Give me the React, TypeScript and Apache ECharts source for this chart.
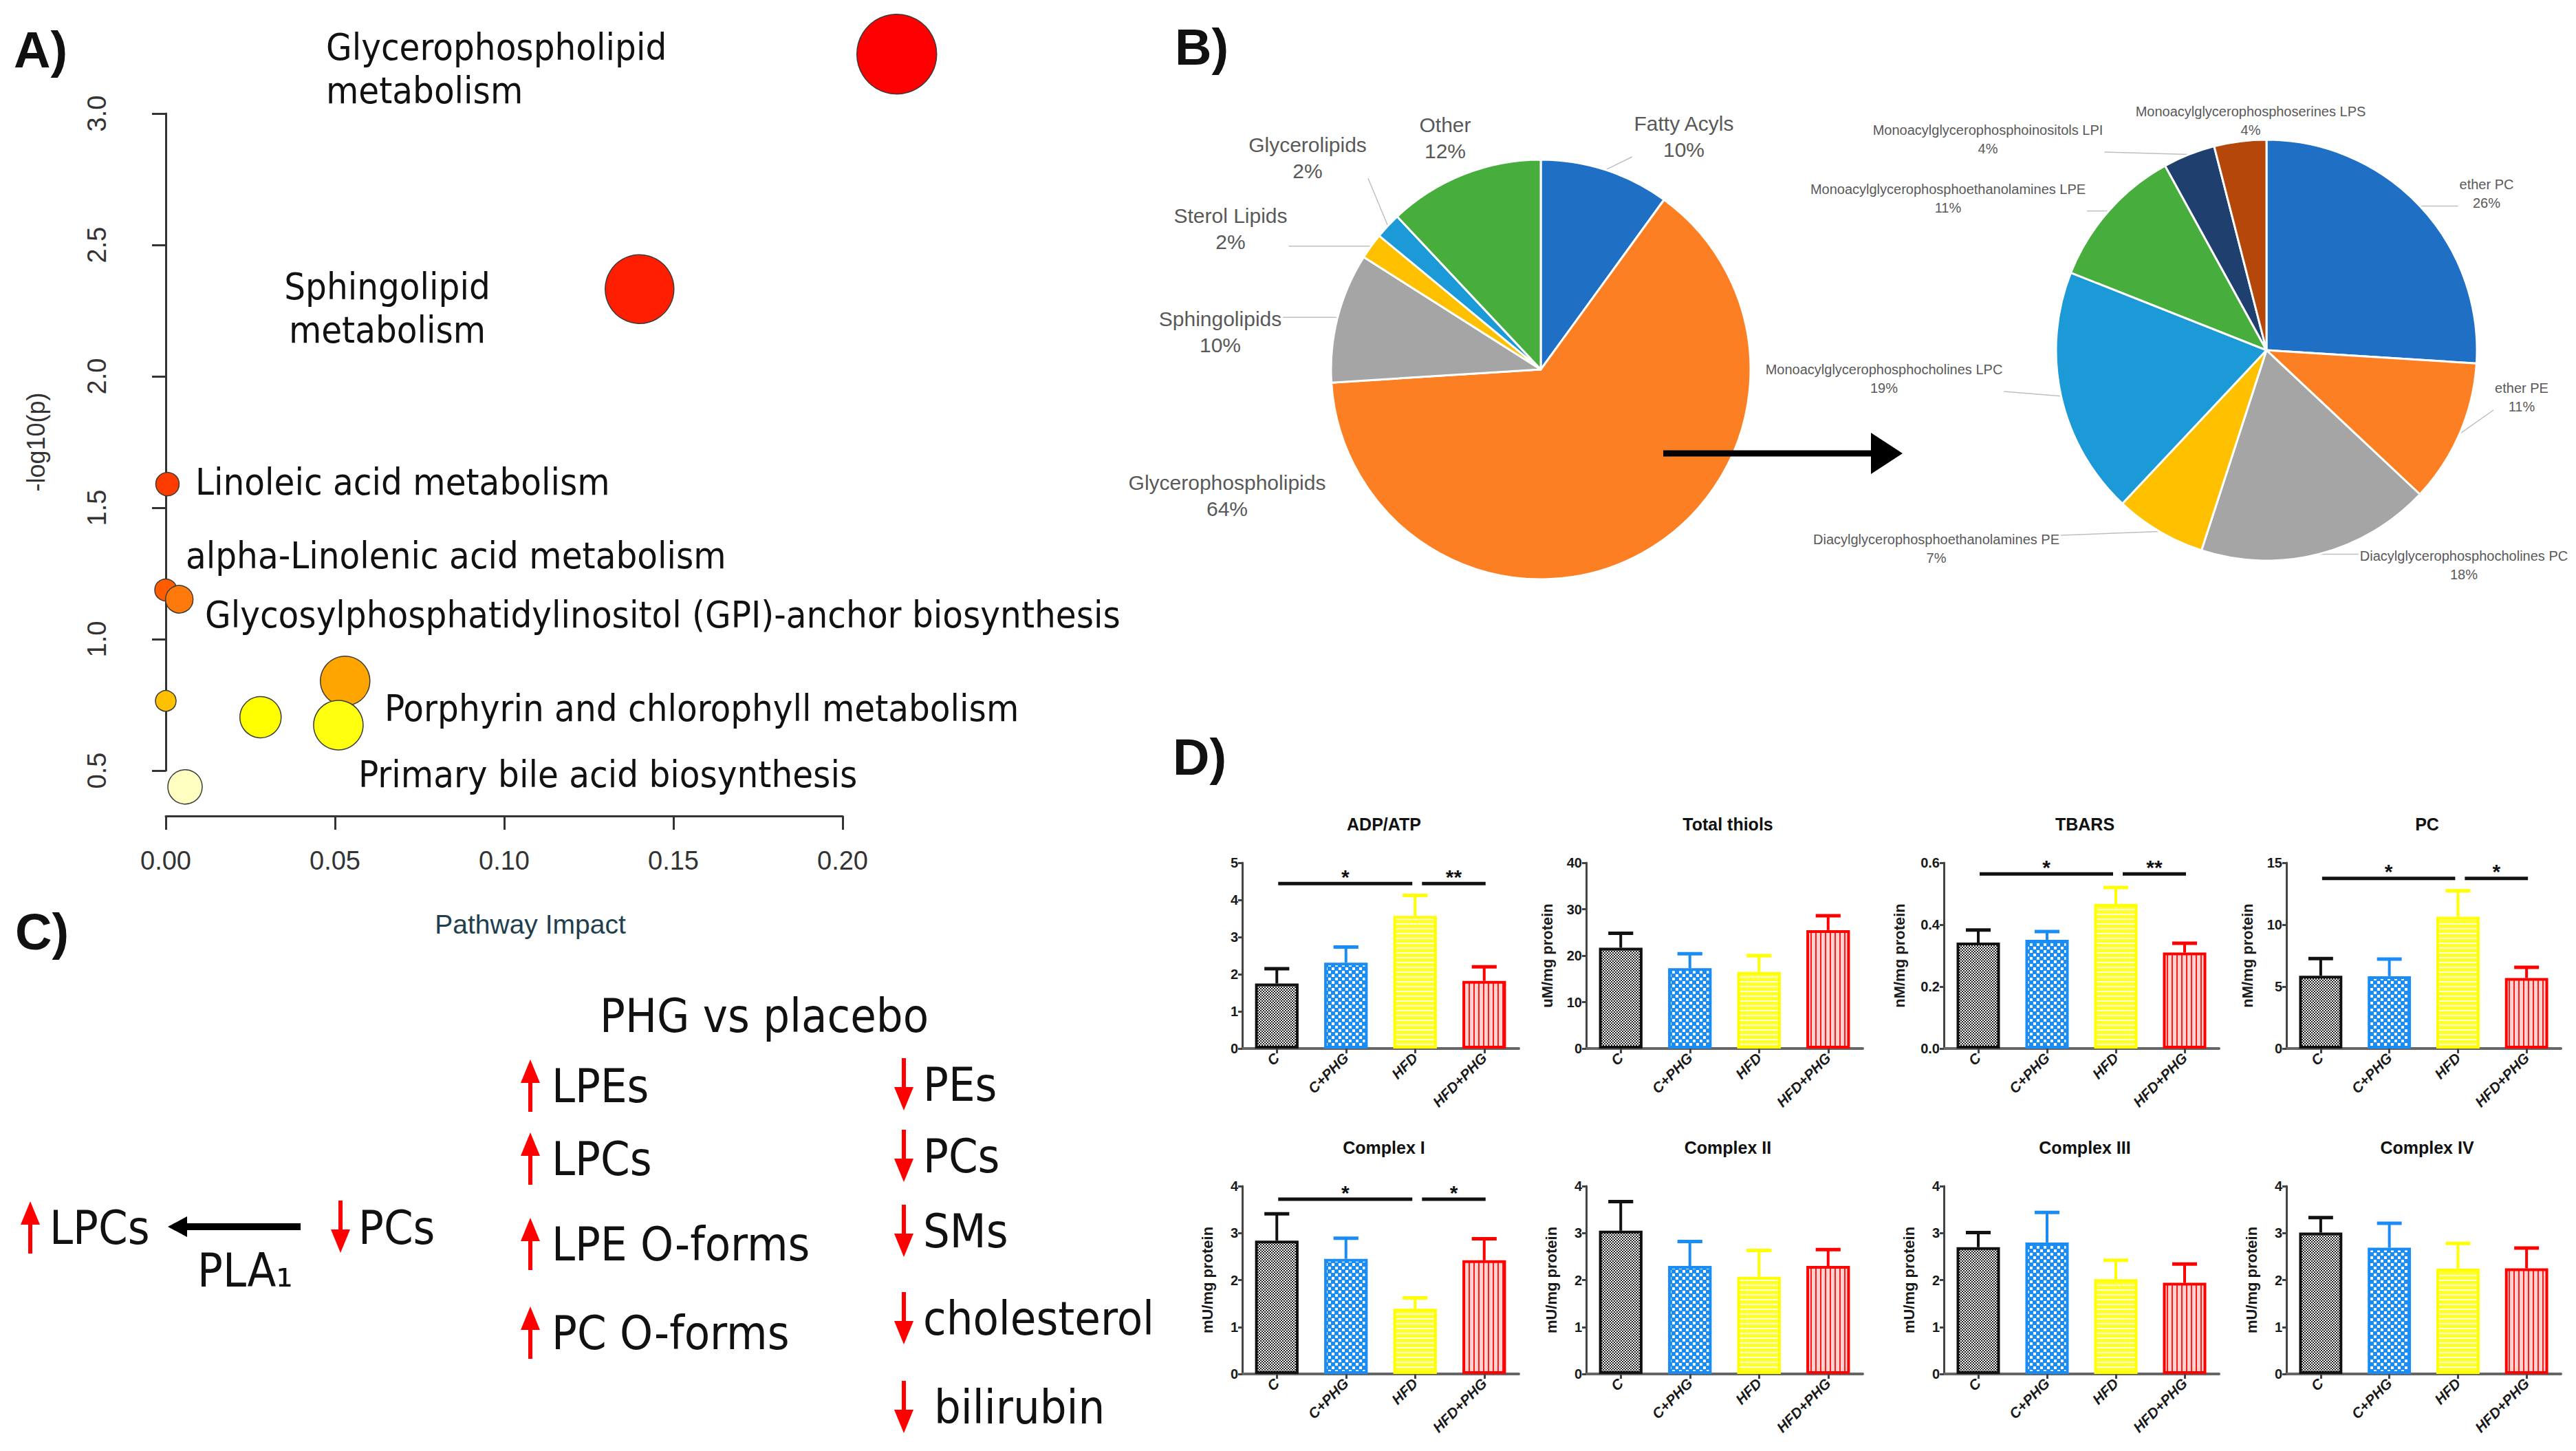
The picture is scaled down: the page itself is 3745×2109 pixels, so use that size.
import React, { useEffect, useRef } from 'react';
import * as echarts from 'echarts';

const W = 3745;
const H = 2109;

const FONT_COND = "'DejaVu Sans Condensed', 'DejaVu Sans', sans-serif";
const FONT_ARIAL = "'Liberation Sans', Arial, sans-serif";
const FONT_NARROW = "'Liberation Sans Narrow', 'Liberation Sans', sans-serif";

// ---------------- Panel A data ----------------
const pathwayImpact = [0.216, 0.14, 0.0005, 0.0, 0.004, 0.053, 0.0, 0.028, 0.051, 0.0057];
const pathwayLogP = [3.226, 2.332, 1.59, 1.187, 1.152, 0.841, 0.765, 0.703, 0.673, 0.438];
const pathwayBubble = [58, 50, 17, 16, 20, 36, 15, 30, 36, 25];
const pathwayColors = ['#ff0000', '#ff1e00', '#ff3c00', '#ff5c00', '#ff7a0a', '#ffa500', '#ffc000', '#ffff00', '#ffff10', '#ffffc2'];
const pathwayLabels = [
  'Glycerophospholipid\nmetabolism',
  'Sphingolipid\nmetabolism',
  'Linoleic acid metabolism',
  'alpha-Linolenic acid metabolism',
  'Glycosylphosphatidylinositol (GPI)-anchor biosynthesis',
  'Porphyrin and chlorophyll metabolism',
  'Primary bile acid biosynthesis',
];
const impactTicks = [0, 0.2, 0.05];
const logPTicks = [0.5, 3.0, 0.5];

// ---------------- Panel B data ----------------
const lipidClasses = ['Fatty Acyls', 'Glycerophospholipids', 'Sphingolipids', 'Sterol Lipids', 'Glycerolipids', 'Other'];
const lipidShares = [10, 64, 10, 2, 2, 12];
const gplClasses = [
  'ether PC',
  'ether PE',
  'Diacylglycerophosphocholines PC',
  'Diacylglycerophosphoethanolamines PE',
  'Monoacylglycerophosphocholines LPC',
  'Monoacylglycerophosphoethanolamines LPE',
  'Monoacylglycerophosphoinositols LPI',
  'Monoacylglycerophosphoserines LPS',
];
const gplShares = [26, 11, 18, 7, 19, 11, 4, 4];

// ---------------- Panel C text ----------------
const upItems = ['LPEs', 'LPCs', 'LPE O-forms', 'PC O-forms'];
const downItems = ['PEs', 'PCs', 'SMs', 'cholesterol', 'bilirubin'];

// ---------------- Panel D data ----------------
const groups = ['C', 'C+PHG', 'HFD', 'HFD+PHG'];
const adpAtpMean = [1.75, 2.31, 3.57, 1.82];
const adpAtpTop = [2.15, 2.73, 4.12, 2.2];
const adpAtpSig = [[0, 2, 4.44], [2, 3, 4.44]];
const adpAtpStars = ['*', '**'];
const thiolsMean = [21.7, 17.3, 16.5, 25.5];
const thiolsTop = [24.8, 20.4, 20.0, 28.6];
const tbarsMean = [0.342, 0.351, 0.467, 0.31];
const tbarsTop = [0.383, 0.378, 0.52, 0.34];
const tbarsSig = [[0, 2, 0.564], [2, 3, 0.564]];
const tbarsStars = ['*', '**'];
const pcMean = [5.88, 5.84, 10.64, 5.69];
const pcTop = [7.26, 7.22, 12.73, 6.55];
const pcSig = [[0, 2, 13.73], [2, 3, 13.73]];
const pcStars = ['*', '*'];
const cx1Mean = [2.84, 2.45, 1.39, 2.42];
const cx1Top = [3.41, 2.89, 1.62, 2.88];
const cx1Sig = [[0, 2, 3.72], [2, 3, 3.72]];
const cx1Stars = ['*', '*'];
const cx2Mean = [3.05, 2.3, 2.07, 2.3];
const cx2Top = [3.67, 2.82, 2.63, 2.65];
const cx3Mean = [2.7, 2.8, 2.02, 1.94];
const cx3Top = [3.01, 3.44, 2.42, 2.34];
const cx4Mean = [3.01, 2.69, 2.24, 2.25];
const cx4Top = [3.33, 3.21, 2.78, 2.68];

// ---------------- layout & styles ----------------
const leftPieColors = ['#1f6fc5', '#fd7f23', '#a5a5a5', '#ffc000', '#1b9ad7', '#47ad3c'];
const rightPieColors = ['#1f6fc5', '#fd7f23', '#a5a5a5', '#ffc000', '#1b9ad7', '#47ad3c', '#1f3f6e', '#b6470b'];
const leftLabelPos = [[2448, 198], [1784, 720], [1774, 482], [1789, 332], [1901, 229], [2101, 200]];
const leftLabelLine = [true, false, true, true, true, false];
const rightLabelPos = [[3615, 281], [3666, 577], [3582, 821], [2815, 797], [2739, 550], [2832, 288], [2890, 202], [3272, 175]];
const rightLabelLine = [true, true, true, true, true, true, true, false];
const pathwayLabelPos = [[474, 100, 'left'], [563, 448, 'center'], [284, 700, 'left'], [270, 807, 'left'], [298, 893, 'left'], [559, 1029, 'left'], [521, 1125, 'left']];
const groupBorder = ['#111111', '#1a8cf5', '#ffff00', '#ff0000'];
const dCols = [[1806, 2208], [2306, 2708], [2826, 3226], [3324, 3723]];
const dRows = [[1254, 1524], [1724, 1997]];

function tile(w: number, h: number, draw: (ctx: CanvasRenderingContext2D) => void) {
  const c = document.createElement('canvas');
  c.width = w;
  c.height = h;
  const ctx = c.getContext('2d') as CanvasRenderingContext2D;
  draw(ctx);
  return { image: c, repeat: 'repeat', imageWidth: w, imageHeight: h };
}

function makePatterns() {
  const pC = tile(4, 4, (ctx) => {
    ctx.fillStyle = '#ffffff';
    ctx.fillRect(0, 0, 4, 4);
    ctx.fillStyle = '#222222';
    ctx.fillRect(0, 0, 2, 2);
    ctx.fillRect(2, 2, 2, 2);
  });
  const pCP = tile(10, 10, (ctx) => {
    ctx.fillStyle = '#1a8cf5';
    ctx.fillRect(0, 0, 10, 10);
    ctx.fillStyle = '#ffffff';
    ctx.fillRect(1, 1, 4, 4);
    ctx.fillRect(6, 6, 4, 4);
  });
  const pH = tile(4, 7, (ctx) => {
    ctx.fillStyle = '#ffff2a';
    ctx.fillRect(0, 0, 4, 7);
    ctx.fillStyle = '#ffffd8';
    ctx.fillRect(0, 5, 4, 2);
  });
  const pHP = tile(7, 4, (ctx) => {
    ctx.fillStyle = '#ffd2d2';
    ctx.fillRect(0, 0, 7, 4);
    ctx.fillStyle = '#ff1a1a';
    ctx.fillRect(0, 0, 2, 4);
  });
  return [pC, pCP, pH, pHP];
}

function txt(text: string, x: number, y: number, font: string, extra: any = {}) {
  return {
    type: 'text',
    silent: true,
    z: 100,
    style: {
      text,
      x,
      y,
      font,
      fill: '#111111',
      align: 'left',
      verticalAlign: 'middle',
      textAlign: 'left',
      textVerticalAlign: 'middle',
      ...extra,
    },
  };
}

function vArrow(cx: number, top: number, bottom: number, up: boolean, color: string) {
  const headH = 34;
  const hw = 14;
  const sw = 6;
  if (up) {
    return [
      { type: 'rect', silent: true, z: 100, shape: { x: cx - sw / 2, y: top + headH - 2, width: sw, height: bottom - top - headH + 2 }, style: { fill: color } },
      { type: 'polygon', silent: true, z: 100, shape: { points: [[cx, top], [cx + hw, top + headH], [cx - hw, top + headH]] }, style: { fill: color } },
    ];
  }
  return [
    { type: 'rect', silent: true, z: 100, shape: { x: cx - sw / 2, y: top, width: sw, height: bottom - top - headH + 2 }, style: { fill: color } },
    { type: 'polygon', silent: true, z: 100, shape: { points: [[cx, bottom], [cx + hw, bottom - headH], [cx - hw, bottom - headH]] }, style: { fill: color } },
  ];
}

function hArrowLeft(tipX: number, tailX: number, y: number, thick: number, headLen: number, headHalf: number) {
  return [
    { type: 'rect', silent: true, z: 100, shape: { x: tipX + headLen - 2, y: y - thick / 2, width: tailX - tipX - headLen + 2, height: thick }, style: { fill: '#000' } },
    { type: 'polygon', silent: true, z: 100, shape: { points: [[tipX, y], [tipX + headLen, y - headHalf], [tipX + headLen, y + headHalf]] }, style: { fill: '#000' } },
  ];
}

function hArrowRight(tailX: number, tipX: number, y: number, thick: number, headLen: number, headHalf: number) {
  return [
    { type: 'rect', silent: true, z: 100, shape: { x: tailX, y: y - thick / 2, width: tipX - tailX - headLen + 2, height: thick }, style: { fill: '#000' } },
    { type: 'polygon', silent: true, z: 100, shape: { points: [[tipX, y], [tipX - headLen, y - headHalf], [tipX - headLen, y + headHalf]] }, style: { fill: '#000' } },
  ];
}

function pieLabelLayout(positions: number[][], showLine: boolean[]) {
  return (params: any) => {
    const p = positions[params.dataIndex];
    const x = p[0];
    const y = p[1];
    const r = params.labelRect;
    const out: any = { x, y, align: 'center', verticalAlign: 'middle' };
    const pts = params.labelLinePoints;
    if (pts && showLine[params.dataIndex]) {
      const p0 = pts[0];
      const left = x - r.width / 2 - 2;
      const right = x + r.width / 2 + 2;
      const top = y - r.height / 2;
      const bottom = y + r.height / 2;
      const tx = Math.min(Math.max(p0[0], left), right);
      const ty = Math.min(Math.max(p0[1], top + 8), bottom - 8);
      out.labelLinePoints = [p0, [tx, ty], [tx, ty]];
    }
    return out;
  };
}

function buildOption() {
  const patterns = makePatterns();

  const assays = [
    { title: 'ADP/ATP', unit: '', max: 5, step: 1, mean: adpAtpMean, top: adpAtpTop, sig: adpAtpSig, stars: adpAtpStars, gap: 40, dec: 0 },
    { title: 'Total thiols', unit: 'uM/mg protein', max: 40, step: 10, mean: thiolsMean, top: thiolsTop, sig: [], stars: [], gap: 46, dec: 0 },
    { title: 'TBARS', unit: 'nM/mg protein', max: 0.6, step: 0.2, mean: tbarsMean, top: tbarsTop, sig: tbarsSig, stars: tbarsStars, gap: 54, dec: 1 },
    { title: 'PC', unit: 'nM/mg protein', max: 15, step: 5, mean: pcMean, top: pcTop, sig: pcSig, stars: pcStars, gap: 46, dec: 0 },
    { title: 'Complex I', unit: 'mU/mg protein', max: 4, step: 1, mean: cx1Mean, top: cx1Top, sig: cx1Sig, stars: cx1Stars, gap: 40, dec: 0 },
    { title: 'Complex II', unit: 'mU/mg protein', max: 4, step: 1, mean: cx2Mean, top: cx2Top, sig: [], stars: [], gap: 40, dec: 0 },
    { title: 'Complex III', unit: 'mU/mg protein', max: 4, step: 1, mean: cx3Mean, top: cx3Top, sig: [], stars: [], gap: 40, dec: 0 },
    { title: 'Complex IV', unit: 'mU/mg protein', max: 4, step: 1, mean: cx4Mean, top: cx4Top, sig: [], stars: [], gap: 40, dec: 0 },
  ];

  const grids: any[] = [
    { left: 241, top: 165, width: 984, height: 955 },
  ];
  const xAxes: any[] = [
    {
      type: 'value',
      gridIndex: 0,
      min: impactTicks[0],
      max: impactTicks[1],
      interval: impactTicks[2],
      offset: 66,
      axisLine: { show: true, lineStyle: { color: '#333', width: 3 } },
      axisTick: { show: true, length: 20, lineStyle: { color: '#333', width: 3 } },
      axisLabel: { formatter: (v: number) => v.toFixed(2), fontSize: 38, color: '#333', margin: 46, fontFamily: FONT_NARROW },
      splitLine: { show: false },
      name: 'Pathway Impact',
      nameLocation: 'middle',
      nameGap: 138,
      nameTextStyle: { fontSize: 39, color: '#213e4e', fontFamily: FONT_NARROW, padding: [0, 0, 0, 76] },
    },
  ];
  const yAxes: any[] = [
    {
      type: 'value',
      gridIndex: 0,
      min: logPTicks[0],
      max: logPTicks[1],
      interval: logPTicks[2],
      offset: 41,
      axisLine: { show: true, lineStyle: { color: '#333', width: 3 } },
      axisTick: { show: true, length: 20, lineStyle: { color: '#333', width: 3 } },
      axisLabel: { formatter: (v: number) => v.toFixed(1), fontSize: 38, color: '#333', margin: 40, rotate: 90, fontFamily: FONT_NARROW },
      splitLine: { show: false },
      name: '-log10(p)',
      nameLocation: 'middle',
      nameGap: 130,
      nameRotate: 90,
      nameTextStyle: { fontSize: 36, color: '#333', fontFamily: FONT_NARROW },
    },
  ];

  const series: any[] = [
    {
      type: 'scatter',
      xAxisIndex: 0,
      yAxisIndex: 0,
      clip: false,
      silent: true,
      data: pathwayImpact.map((x, i) => ({
        value: [x, pathwayLogP[i]],
        symbolSize: pathwayBubble[i] * 2,
        itemStyle: { color: pathwayColors[i], borderColor: '#3a3a3a', borderWidth: 1.5, opacity: 1 },
      })),
      z: 3,
    },
    {
      type: 'pie',
      center: [2240, 537],
      radius: 305,
      startAngle: 90,
      clockwise: true,
      avoidLabelOverlap: false,
      silent: true,
      itemStyle: { borderColor: '#ffffff', borderWidth: 3 },
      label: { show: true, formatter: '{b}\n{c}%', fontFamily: FONT_NARROW, fontSize: 30, lineHeight: 38, color: '#595959', align: 'center' },
      labelLine: { show: true, length: 10, length2: 10, lineStyle: { color: '#bfbfbf', width: 1.5 } },
      labelLayout: pieLabelLayout(leftLabelPos, leftLabelLine),
      data: lipidClasses.map((n, i) => ({
        name: n,
        value: lipidShares[i],
        itemStyle: { color: leftPieColors[i] },
        labelLine: { show: leftLabelLine[i] },
      })),
    },
    {
      type: 'pie',
      center: [3295, 509],
      radius: 306,
      startAngle: 90,
      clockwise: true,
      avoidLabelOverlap: false,
      silent: true,
      itemStyle: { borderColor: '#ffffff', borderWidth: 3 },
      label: { show: true, formatter: '{b}\n{c}%', fontFamily: FONT_NARROW, fontSize: 20, lineHeight: 27, color: '#595959', align: 'center' },
      labelLine: { show: true, length: 10, length2: 10, lineStyle: { color: '#bfbfbf', width: 1.5 } },
      labelLayout: pieLabelLayout(rightLabelPos, rightLabelLine),
      data: gplClasses.map((n, i) => ({
        name: n,
        value: gplShares[i],
        itemStyle: { color: rightPieColors[i] },
        labelLine: { show: rightLabelLine[i] },
      })),
    },
  ];

  const titles: any[] = [];

  assays.forEach((a, k) => {
    const g = k + 1;
    const col = dCols[k % 4];
    const row = dRows[Math.floor(k / 4)];
    grids.push({ left: col[0], top: row[0], width: col[1] - col[0], height: row[1] - row[0] });
    titles.push({
      text: a.title,
      left: (col[0] + col[1]) / 2,
      top: row[0] - 74,
      textAlign: 'center',
      textStyle: { fontFamily: FONT_ARIAL, fontWeight: 'bold', fontSize: 25, color: '#111' },
    });
    xAxes.push({
      type: 'category',
      gridIndex: g,
      data: groups,
      axisLine: { show: true, lineStyle: { color: '#666', width: 4 } },
      axisTick: { show: true, alignWithLabel: true, length: 7, lineStyle: { color: '#444', width: 3 } },
      axisLabel: {
        rotate: 45,
        interval: 0,
        fontFamily: FONT_ARIAL,
        fontWeight: 'bold',
        fontStyle: 'italic',
        fontSize: 21,
        color: '#1a1a1a',
        margin: 10,
      },
      splitLine: { show: false },
    });
    yAxes.push({
      type: 'value',
      gridIndex: g,
      min: 0,
      max: a.max,
      interval: a.step,
      axisLine: { show: true, lineStyle: { color: '#444', width: 3 } },
      axisTick: { show: true, length: 6, lineStyle: { color: '#444', width: 3 } },
      splitLine: { show: false },
      axisLabel: {
        fontFamily: FONT_ARIAL,
        fontWeight: 'bold',
        fontSize: 20,
        color: '#1a1a1a',
        margin: 6,
        formatter: (v: number) => v.toFixed(a.dec),
      },
      name: a.unit,
      nameLocation: 'middle',
      nameGap: a.gap,
      nameTextStyle: { fontFamily: FONT_ARIAL, fontWeight: 'bold', fontSize: 22, color: '#1a1a1a' },
    });
    series.push({
      type: 'bar',
      xAxisIndex: g,
      yAxisIndex: g,
      barWidth: '63%',
      silent: true,
      data: a.mean.map((m, i) => ({
        value: m,
        itemStyle: { color: patterns[i], borderColor: groupBorder[i], borderWidth: 4 },
      })),
      z: 2,
    });
    series.push({
      type: 'custom',
      xAxisIndex: g,
      yAxisIndex: g,
      silent: true,
      z: 3,
      data: a.mean.map((m, i) => [i, m, a.top[i]]),
      renderItem: (params: any, api: any) => {
        const i = api.value(0);
        const p0 = api.coord([i, api.value(1)]);
        const p1 = api.coord([i, api.value(2)]);
        const band = api.size([1, 0])[0];
        const hw = band * 0.18;
        const color = groupBorder[i];
        return {
          type: 'group',
          children: [
            { type: 'line', shape: { x1: p0[0], y1: p0[1], x2: p1[0], y2: p1[1] }, style: { stroke: color, lineWidth: 4 } },
            { type: 'line', shape: { x1: p1[0] - hw, y1: p1[1], x2: p1[0] + hw, y2: p1[1] }, style: { stroke: color, lineWidth: 5 } },
          ],
        };
      },
    });
    if (a.sig.length) {
      const n = a.sig.length;
      series.push({
        type: 'custom',
        xAxisIndex: g,
        yAxisIndex: g,
        silent: true,
        z: 4,
        data: a.sig.map((s) => [s[0], s[1], s[2]]),
        renderItem: (params: any, api: any) => {
          const idx = params.dataIndex;
          const pa = api.coord([api.value(0), api.value(2)]);
          const pb = api.coord([api.value(1), api.value(2)]);
          const band = api.size([1, 0])[0];
          const x1 = pa[0] + band * (idx > 0 ? 0.1 : 0.02);
          const x2 = pb[0] - band * (idx < n - 1 ? 0.04 : -0.02);
          return {
            type: 'group',
            children: [
              { type: 'line', shape: { x1, y1: pa[1], x2, y2: pa[1] }, style: { stroke: '#111', lineWidth: 5 } },
              {
                type: 'text',
                style: {
                  text: a.stars[idx],
                  x: (x1 + x2) / 2,
                  y: pa[1] - 10,
                  font: `bold 30px ${FONT_ARIAL}`,
                  fill: '#111',
                  align: 'center',
                  verticalAlign: 'middle',
                  textAlign: 'center',
                  textVerticalAlign: 'middle',
                },
              },
            ],
          };
        },
      });
    }
  });

  const LETTER = `bold 74px ${FONT_ARIAL}`;
  const A_FONT = `54px ${FONT_COND}`;
  const C_FONT = `68px ${FONT_COND}`;

  const graphics: any[] = [
    txt('A)', 20, 72, LETTER),
    txt('B)', 1708, 68, LETTER),
    txt('C)', 22, 1354, LETTER),
    txt('D)', 1705, 1100, LETTER),
  ];

  pathwayLabels.forEach((t, i) => {
    const p = pathwayLabelPos[i];
    graphics.push(txt(t, p[0] as number, p[1] as number, A_FONT, { lineHeight: 63, align: p[2], textAlign: p[2] }));
  });

  // Panel B arrow (drawn over the pie)
  hArrowRight(2418, 2766, 659, 9, 46, 30).forEach((e) => graphics.push(e));

  // Panel C
  graphics.push(txt('PHG vs placebo', 872, 1476, C_FONT));
  const upY = [1578, 1684, 1808, 1937];
  upItems.forEach((t, i) => {
    vArrow(771, upY[i] - 38, upY[i] + 38, true, '#ff0000').forEach((e) => graphics.push(e));
    graphics.push(txt(t, 802, upY[i], C_FONT));
  });
  const downY = [1576, 1680, 1789, 1916, 2045];
  downItems.forEach((t, i) => {
    vArrow(1314, downY[i] - 38, downY[i] + 38, false, '#ff0000').forEach((e) => graphics.push(e));
    graphics.push(txt(t, i === 4 ? 1358 : 1342, downY[i], C_FONT));
  });
  vArrow(44, 1746, 1822, true, '#ff0000').forEach((e) => graphics.push(e));
  graphics.push(txt('LPCs', 72, 1784, C_FONT));
  hArrowLeft(244, 437, 1783, 10, 28, 15).forEach((e) => graphics.push(e));
  graphics.push(txt('PLA₁', 287, 1846, C_FONT));
  vArrow(495, 1745, 1821, false, '#ff0000').forEach((e) => graphics.push(e));
  graphics.push(txt('PCs', 521, 1784, C_FONT));

  return {
    animation: false,
    backgroundColor: '#ffffff',
    textStyle: { fontFamily: FONT_ARIAL },
    title: titles,
    grid: grids,
    xAxis: xAxes,
    yAxis: yAxes,
    series,
    graphic: { elements: graphics },
  };
}

export default function App() {
  const ref = useRef<HTMLDivElement>(null);
  useEffect(() => {
    document.body.style.margin = '0';
    const chart = echarts.init(ref.current as HTMLDivElement, null, { renderer: 'svg', width: W, height: H });
    chart.setOption(buildOption() as any);
    return () => chart.dispose();
  }, []);
  return <div ref={ref} style={{ width: W, height: H }} />;
}
